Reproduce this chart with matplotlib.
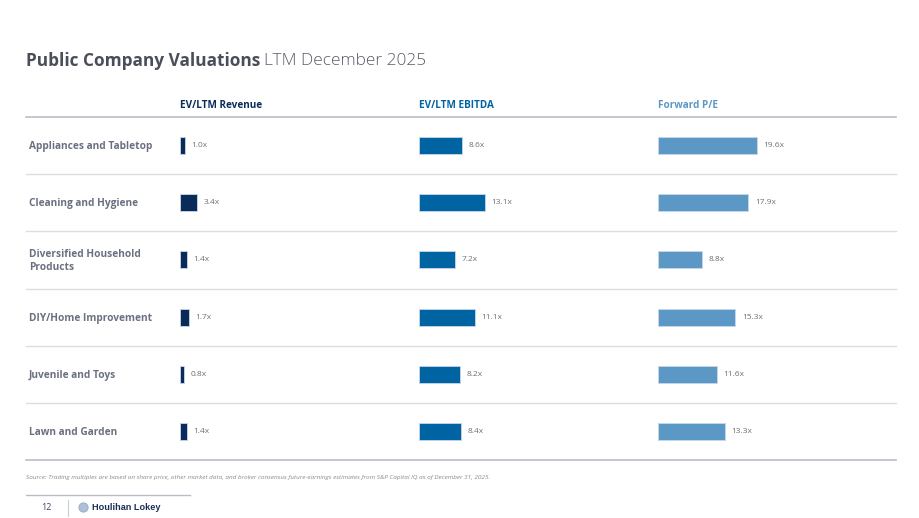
"""
Public Company Valuations - LTM December 2025
"""

import matplotlib
matplotlib.use("Agg")
import matplotlib.pyplot as plt

plt.rcParams["font.family"] = ["Open Sans", "DejaVu Sans"]

categories = ["Appliances and Tabletop", "Cleaning and Hygiene",
              "Diversified Household\nProducts", "DIY/Home Improvement",
              "Juvenile and Toys", "Lawn and Garden"]
metrics = ["EV/LTM Revenue", "EV/LTM EBITDA", "Forward P/E"]
ev_revenue = [1.0, 3.4, 1.4, 1.7, 0.8, 1.4]
ev_ebitda = [8.6, 13.1, 7.2, 11.1, 8.2, 8.4]
forward_pe = [19.6, 17.9, 8.8, 15.3, 11.6, 13.3]

series = [ev_revenue, ev_ebitda, forward_pe]
bar_colors = ["#0a2b5a", "#0064a3", "#5b98c6"]
head_colors = ["#0b2d5c", "#0064a3", "#5b98c6"]

W, H = 920, 518
PX_PER_UNIT = 5.05

fig = plt.figure(figsize=(W / 100, H / 100), dpi=100)

# background axes in pixel coordinates for text and rules
bg = fig.add_axes([0, 0, 1, 1])
bg.set_xlim(0, W)
bg.set_ylim(H, 0)
bg.axis("off")

t1 = bg.text(26, 61, "Public Company Valuations", fontsize=12.4, fontweight="bold",
             color="#4a4d5a", va="center", ha="left")
bg.annotate("LTM December 2025", xy=(1, 0.5), xycoords=t1, xytext=(3, 0),
            textcoords="offset points", fontsize=12.4, fontweight="light",
            color="#5a5d68", va="center", ha="left")

top, bottom = 117, 460
row_h = (bottom - top) / len(categories)

bg.plot([26, 896], [top, top], color="#b9bdc7", lw=1.2)
for i in range(1, len(categories)):
    y = top + i * row_h
    bg.plot([26, 896], [y, y], color="#dcdde2", lw=1.0)
bg.plot([26, 896], [bottom, bottom], color="#b9bdc7", lw=1.2)

for i, cat in enumerate(categories):
    bg.text(29, top + (i + 0.5) * row_h + 1, cat, fontsize=7.3, fontweight="bold",
            color="#6b7080", va="center", ha="left", linespacing=1.3)

starts = [180, 419, 658]
for x0, name, c in zip(starts, metrics, head_colors):
    bg.text(x0, 106, name, fontsize=7.2, fontweight="bold", color=c,
            va="center", ha="left")

# bar axes, one per metric
ax_w = 225
for x0, vals, c in zip(starts, series, bar_colors):
    ax = fig.add_axes([x0 / W, (H - bottom) / H, ax_w / W, (bottom - top) / H])
    ax.set_xlim(0, ax_w / PX_PER_UNIT)
    ax.set_ylim(len(categories) - 0.5, -0.5)
    ax.axis("off")
    ypos = list(range(len(vals)))
    ax.barh(ypos, vals, height=0.3, color=c, edgecolor="#c9d7e8", linewidth=0.6)
    for y, v in zip(ypos, vals):
        ax.text(v + 1.3, y, f"{v:.1f}x", fontsize=6, color="#707070",
                va="center", ha="left")

bg.text(26, 478, "Source: Trading multiples are based on share price, other market data, "
        "and broker consensus future-earnings estimates from S&P Capital IQ as of "
        "December 31, 2025.", fontsize=4.6, style="italic", color="#8a8a8a",
        va="center", ha="left")

bg.plot([26, 190], [495, 495], color="#b9bdc7", lw=1.0)
bg.text(46, 508, "12", fontsize=6.5, color="#3a4a6a", va="center", ha="center")
bg.plot([68, 68], [500, 516], color="#c9ccd4", lw=0.8)
bg.scatter([83], [507], s=45, color="#aebfd8", edgecolor="#8aa3c6", linewidth=0.5)
bg.text(92, 508, "Houlihan Lokey", fontsize=6.6, fontweight="bold", color="#1b2f55",
        family=["Liberation Sans", "DejaVu Sans"], va="center", ha="left")

fig.savefig("out.png", dpi=100)
